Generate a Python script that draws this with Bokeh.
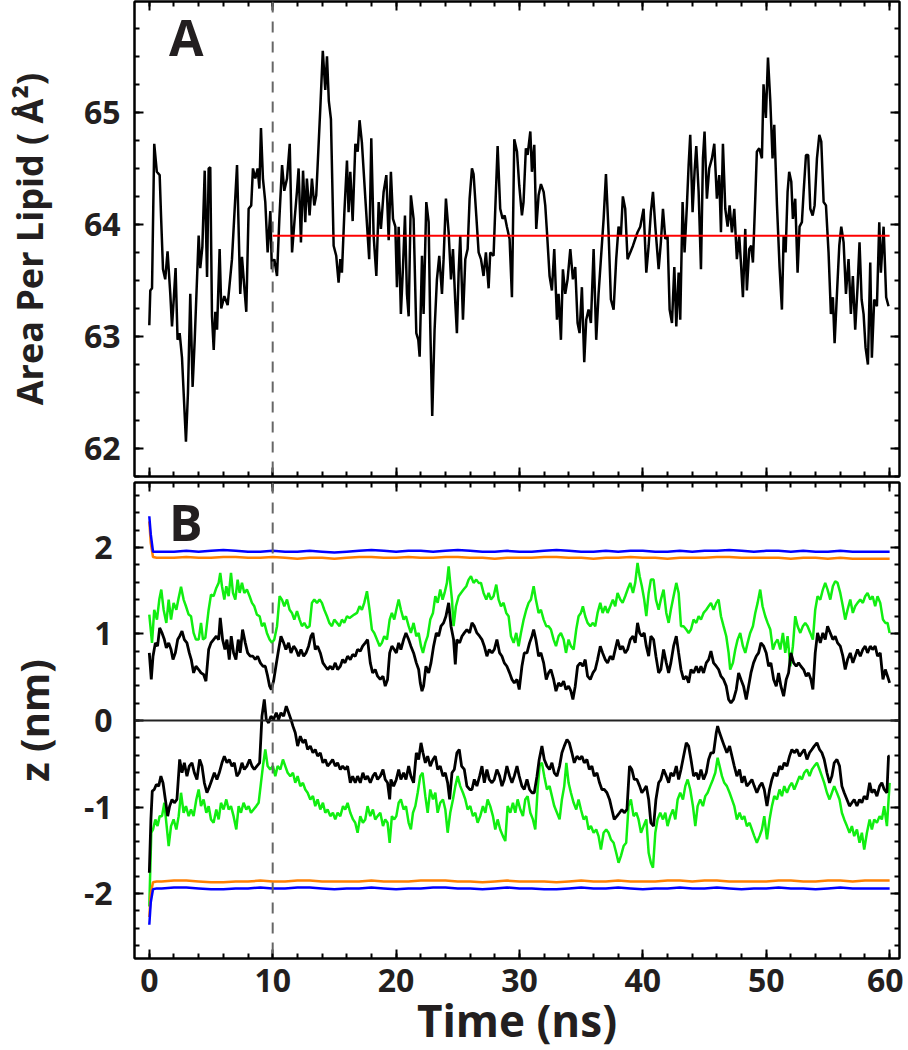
from bokeh.plotting import figure
from bokeh.models import LinearAxis, SingleIntervalTicker, Span, Label, Range1d, CustomJSTickFormatter
from bokeh.layouts import column
from bokeh.embed import file_html
from bokeh.resources import INLINE

# ---------------- data: panel A (area per lipid) ----------------
apl_t = [0.0,0.08,0.22,0.40,0.61,0.84,0.95,1.11,1.29,1.48,1.70,1.84,1.98,2.13,2.29,2.46,2.65,2.97,3.13,3.32,
3.51,3.68,4.00,4.13,4.30,4.49,4.68,4.81,4.94,5.08,5.22,5.35,5.49,5.70,5.83,6.08,6.35,6.70,7.11,7.37,
7.51,7.70,7.86,8.05,8.26,8.40,8.59,8.78,8.92,9.05,9.21,9.40,9.59,9.81,9.93,10.13,10.35,10.54,10.76,10.94,
11.16,11.38,11.57,11.78,11.97,12.10,12.29,12.46,12.64,12.77,12.99,13.18,13.37,13.53,13.86,14.06,14.26,14.40,14.55,14.72,
14.94,15.15,15.34,15.48,15.61,15.81,16.02,16.15,16.29,16.48,16.70,16.89,17.04,17.23,17.51,17.82,17.99,18.18,18.40,18.59,
18.77,18.99,19.21,19.40,19.58,
19.75,19.94,20.07,20.21,20.39,20.56,20.72,20.88,21.02,21.20,21.42,21.64,21.80,21.91,22.10,22.23,22.45,22.64,22.77,22.93,
23.12,23.31,23.50,23.72,23.85,24.04,24.26,24.45,24.61,24.80,24.93,25.07,25.20,25.42,25.61,25.80,25.96,26.15,26.28,26.50,
26.69,26.88,27.09,27.28,27.50,27.63,27.90,28.04,28.23,28.44,28.63,28.80,28.98,29.20,29.39,29.58,29.80,29.98,30.20,30.33,
30.52,30.66,30.88,31.01,31.20,31.36,31.55,31.74,31.96,32.09,32.23,32.44,32.63,32.82,33.04,33.17,33.36,33.52,33.71,33.90,
34.12,34.33,34.52,34.71,34.87,35.06,35.25,35.41,35.60,35.79,36.01,36.22,36.41,36.60,36.82,37.01,37.22,37.41,37.63,37.84,
38.03,38.22,38.38,38.57,38.76,38.98,39.20,39.38,39.57,39.79,40.06,
40.28,40.47,40.65,40.82,41.01,41.28,41.46,41.63,41.82,42.00,42.17,42.36,42.55,42.71,42.90,43.03,43.22,43.38,43.57,43.71,
43.84,44.03,44.19,44.33,44.52,44.71,44.87,45.00,45.19,45.38,45.60,45.79,46.00,46.19,46.33,46.49,46.68,46.87,47.03,47.22,
47.41,47.62,47.81,47.97,48.11,48.30,48.43,48.62,48.78,48.92,49.11,49.24,49.43,49.65,49.78,49.97,50.14,50.33,50.51,50.65,
50.87,51.08,51.27,51.41,51.57,51.73,51.86,52.03,52.16,52.35,52.54,52.70,52.89,53.03,53.22,53.40,53.57,53.76,53.92,54.11,
54.30,54.46,54.65,54.84,55.05,55.24,55.40,55.54,55.73,55.92,56.08,56.27,56.46,56.67,56.86,57.02,57.21,57.40,57.56,57.73,
57.89,58.05,58.24,58.43,58.56,58.75,58.97,59.16,59.29,59.51,59.72,59.91]
apl_v = [63.1,63.41,63.43,64.72,64.47,64.44,64.08,63.6,63.51,63.76,63.38,63.09,63.33,63.61,62.97,63.03,62.81,62.06,62.49,63.38,
62.55,62.97,63.9,63.61,63.8,64.48,63.53,64.5,64.51,63.18,62.88,63.22,63.06,63.78,63.25,63.36,63.28,63.69,64.53,63.38,
63.71,63.44,63.22,64.14,64.17,64.5,64.41,64.5,64.32,64.86,64.41,64.2,63.75,64.12,63.6,63.69,63.54,64.05,64.53,64.3,
64.41,64.72,63.75,64.05,64.3,64.5,63.84,64.48,64.02,64.41,64.08,64.41,64.17,64.26,65.04,65.55,65.2,65.5,65.1,64.94,
63.81,63.72,63.48,63.69,63.57,64.11,64.57,64.11,64.47,64.03,64.72,64.65,64.93,64.73,64.23,63.69,64.77,63.9,63.54,64.2,
63.96,64.29,64.44,63.86,64.47,
64.05,63.98,63.44,63.98,63.2,63.62,64.08,63.38,63.18,64.26,64.05,63.03,62.97,62.82,63.72,63.2,64.2,64.02,63.09,62.29,
63.06,63.51,63.72,63.38,63.69,64.23,63.93,63.51,63.78,63.3,63.03,63.57,63.9,63.15,63.69,63.78,64.23,64.5,64.45,64.08,
63.75,63.69,63.54,63.75,63.43,63.75,63.72,64.14,64.7,64.14,64.05,64.08,63.98,63.87,63.35,64.76,64.65,64.35,64.08,64.2,
64.68,64.62,64.83,64.47,64.71,63.96,64.26,64.36,64.29,64.17,63.93,63.54,63.41,63.78,63.15,63.38,62.97,63.6,63.38,63.51,
63.78,63.51,63.62,63.12,63.03,63.44,62.77,63.15,63.24,63.12,63.78,62.97,63.38,63.69,64.05,64.45,63.93,63.33,63.24,63.69,
63.98,63.9,64.25,64.14,63.69,63.75,63.81,63.87,63.93,63.98,64.14,
63.57,63.81,64.11,64.29,63.98,63.6,63.84,64.14,63.87,63.9,63.24,63.12,63.62,63.09,63.57,63.15,64.2,63.75,64.17,64.53,
64.8,64.11,64.47,64.7,64.29,63.6,64.59,64.83,64.23,64.5,64.59,64.72,64.23,64.44,63.93,64.72,64.14,63.98,64.17,63.93,
64.14,63.69,63.9,63.62,63.35,63.96,63.41,63.78,63.81,63.66,64.23,64.65,64.68,64.59,65.25,64.95,65.49,65.1,64.59,64.89,
64.17,63.62,63.24,63.9,63.75,64.29,64.47,64.38,64.05,64.23,63.57,63.98,64.02,64.29,64.62,64.62,64.14,64.08,64.17,64.59,
64.8,64.74,64.2,64.17,63.75,63.2,63.35,62.94,63.38,63.81,63.98,63.84,63.38,63.69,63.2,63.54,63.06,63.44,63.84,63.33,
63.2,62.9,62.75,63.66,62.81,63.33,63.27,64.02,63.57,63.98,63.35,63.27]
mean_t = [10, 60]
mean_v = [63.9, 63.9]

# ---------------- data: panel B (z positions, nm) ----------------
calm_t = [0, 0.12, 0.3, 0.6] + list(range(1, 61))
blue_up = [2.36,2.15,1.95,1.95,
1.95,1.95,1.96,1.95,1.96,1.97,1.96,1.95,1.95,1.96,1.95,1.95,1.96,1.95,1.94,1.95,1.96,1.97,1.96,1.95,
1.96,1.96,1.95,1.96,1.97,1.96,1.95,1.95,1.96,1.95,1.95,1.96,1.97,1.96,1.95,1.95,1.96,1.95,1.96,1.96,
1.95,1.95,1.96,1.95,1.96,1.96,1.97,1.96,1.95,1.96,1.96,1.95,1.96,1.95,1.95,1.96,1.95,1.95,1.95,1.95]
orange_up = [2.30,2.05,1.89,1.88,
1.88,1.88,1.89,1.88,1.88,1.89,1.89,1.88,1.88,1.89,1.88,1.87,1.88,1.88,1.87,1.88,1.89,1.89,1.88,1.88,
1.89,1.88,1.88,1.89,1.89,1.88,1.88,1.87,1.88,1.88,1.88,1.89,1.89,1.88,1.88,1.87,1.88,1.88,1.89,1.88,
1.88,1.87,1.88,1.88,1.88,1.89,1.89,1.88,1.88,1.88,1.88,1.87,1.88,1.88,1.87,1.88,1.87,1.87,1.87,1.87]
blue_low = [-2.36,-2.10,-1.95,-1.94,
-1.94,-1.93,-1.93,-1.94,-1.95,-1.95,-1.94,-1.94,-1.93,-1.94,-1.94,-1.93,-1.93,-1.94,-1.95,-1.94,-1.94,-1.93,-1.94,-1.95,
-1.94,-1.94,-1.93,-1.93,-1.94,-1.94,-1.95,-1.94,-1.93,-1.94,-1.94,-1.95,-1.95,-1.94,-1.93,-1.94,-1.94,-1.93,-1.94,-1.95,
-1.94,-1.94,-1.93,-1.94,-1.94,-1.93,-1.94,-1.95,-1.94,-1.94,-1.93,-1.94,-1.94,-1.95,-1.94,-1.93,-1.94,-1.94,-1.94,-1.94]
orange_low = [-2.27,-2.00,-1.87,-1.86,
-1.86,-1.85,-1.85,-1.86,-1.87,-1.87,-1.86,-1.86,-1.85,-1.86,-1.86,-1.85,-1.85,-1.86,-1.86,-1.86,-1.86,-1.85,-1.86,-1.86,
-1.86,-1.85,-1.85,-1.85,-1.86,-1.86,-1.87,-1.86,-1.85,-1.86,-1.86,-1.86,-1.87,-1.86,-1.85,-1.86,-1.86,-1.85,-1.86,-1.86,
-1.86,-1.85,-1.85,-1.86,-1.85,-1.85,-1.86,-1.86,-1.86,-1.86,-1.85,-1.85,-1.86,-1.86,-1.85,-1.85,-1.86,-1.85,-1.85,-1.85]

gu_t = [0.0,0.22,0.40,0.62,0.81,0.97,1.16,1.38,1.57,1.76,1.97,2.19,2.38,2.57,2.78,2.97,3.19,3.38,3.59,3.78,
4.00,4.19,4.35,4.54,4.81,5.00,5.21,5.43,5.62,5.75,5.89,6.08,6.24,6.43,6.62,6.78,6.97,7.16,7.32,7.51,
7.70,7.91,8.13,8.32,8.51,8.72,8.94,9.13,9.32,9.53,9.75,9.94,10.13,10.35,10.56,10.75,10.94,11.16,11.37,11.56,
11.75,11.97,12.18,12.37,12.56,12.78,12.99,13.18,13.37,13.59,13.80,13.99,14.18,14.40,14.59,14.80,14.99,15.21,15.42,15.61,
15.80,16.02,16.23,16.42,16.61,16.83,17.04,17.23,17.42,17.64,17.85,18.04,18.23,18.45,18.67,18.85,19.04,19.26,19.48,19.66,
19.85,
20.02,20.21,20.39,20.61,20.80,21.02,21.20,21.42,21.64,21.83,22.02,22.18,22.37,22.56,22.77,22.99,23.18,23.37,23.58,23.77,
23.93,24.12,24.26,24.39,24.53,24.66,24.85,25.07,25.26,25.47,25.69,25.88,26.07,26.28,26.50,26.69,26.88,27.09,27.31,27.50,
27.69,27.90,28.12,28.31,28.50,28.71,28.93,29.12,29.31,29.53,29.74,29.93,30.12,30.34,30.55,30.74,30.93,31.15,31.33,31.55,
31.74,31.96,32.17,32.36,32.55,32.77,32.96,33.17,33.36,33.58,33.77,33.98,34.17,34.39,34.60,34.79,34.98,35.14,35.33,35.52,
35.74,35.95,36.14,36.33,36.55,36.74,36.95,37.14,37.36,37.57,37.76,37.95,38.17,38.36,38.57,38.76,38.98,39.20,39.38,39.57,
39.74,39.92,40.11,
40.28,40.47,40.65,40.87,41.06,41.28,41.46,41.68,41.90,42.09,42.27,42.49,42.71,42.90,43.09,43.30,43.52,43.71,43.90,44.11,
44.33,44.52,44.71,44.92,45.14,45.33,45.52,45.73,45.95,46.14,46.33,46.54,46.76,46.95,47.08,47.30,47.49,47.68,47.89,48.11,
48.30,48.49,48.70,48.92,49.11,49.30,49.51,49.70,49.92,50.11,50.33,50.54,50.73,50.92,51.14,51.35,51.54,51.73,51.95,52.16,
52.35,52.54,52.76,52.97,53.16,53.35,53.57,53.78,53.97,54.16,54.38,54.59,54.78,54.97,55.19,55.40,55.59,55.78,56.00,56.21,
56.40,56.59,56.81,57.02,57.21,57.40,57.62,57.83,58.02,58.21,58.43,58.62,58.83,59.02,59.24,59.46,59.65,59.83,60.00]
gu_v = [1.224,0.897,1.28,1.166,1.397,1.513,1.28,1.128,1.397,1.166,1.359,1.28,1.417,1.544,1.397,1.32,1.224,1.205,1.012,0.935,
0.935,1.128,0.935,0.955,1.28,1.455,1.436,1.532,1.59,1.705,1.551,1.397,1.551,1.436,1.705,1.474,1.397,1.628,1.474,1.59,
1.474,1.513,1.436,1.359,1.32,1.224,1.205,1.09,1.128,1.012,0.935,0.897,0.935,1.09,1.436,1.397,1.32,1.397,1.28,1.243,
1.166,1.263,1.166,1.09,1.128,1.07,1.09,1.359,1.397,1.359,1.397,1.359,1.28,1.205,1.128,1.09,1.166,1.128,1.09,1.166,
1.128,1.205,1.185,1.205,1.224,1.243,1.32,1.28,1.359,1.494,1.28,1.05,1.012,0.935,0.859,0.897,0.974,0.935,1.166,1.243,
1.166,
1.28,1.397,1.28,1.166,1.205,1.09,1.012,1.128,0.974,1.012,0.859,0.781,0.897,0.974,1.166,1.243,1.436,1.359,1.513,1.397,
1.474,1.59,1.782,1.59,1.397,1.09,1.32,1.436,1.474,1.513,1.551,1.628,1.667,1.59,1.628,1.59,1.59,1.474,1.397,1.474,
1.397,1.436,1.57,1.397,1.32,1.359,1.243,1.205,0.974,0.897,1.012,0.859,1.012,1.166,1.28,1.359,1.397,1.551,1.397,1.243,
1.28,1.166,1.09,1.09,1.051,0.935,0.859,0.974,1.012,0.935,0.781,0.935,0.859,0.82,1.051,1.205,1.243,1.32,1.205,1.128,
1.09,1.128,1.09,1.243,1.359,1.243,1.32,1.243,1.32,1.397,1.32,1.474,1.397,1.359,1.436,1.513,1.59,1.474,1.59,1.82,
1.667,1.551,1.397,
1.205,1.474,1.628,1.628,1.397,1.28,1.397,1.513,1.243,1.128,1.28,1.436,1.59,1.474,1.09,1.09,1.051,1.012,1.051,1.166,
1.128,1.205,1.166,1.243,1.28,1.32,1.359,1.28,1.359,1.397,1.205,1.09,0.974,0.781,0.589,0.666,0.82,0.935,1.012,0.859,
0.781,0.897,1.012,1.09,1.243,1.359,1.513,1.32,1.205,1.128,1.051,0.82,0.897,0.935,0.82,1.012,0.781,0.974,0.627,0.859,
1.205,1.09,1.012,1.09,1.128,1.09,1.012,0.935,1.28,1.436,1.397,1.513,1.59,1.513,1.397,1.551,1.609,1.59,1.474,1.32,
1.166,1.28,1.397,1.243,1.32,1.359,1.397,1.359,1.436,1.474,1.397,1.436,1.32,1.436,1.359,1.166,1.128,1.128,1.012]

bu_t = [0.0,0.16,0.30,0.49,0.67,0.84,1.03,1.22,1.38,1.57,1.76,1.92,2.11,2.30,2.46,2.65,2.84,3.05,3.24,3.40,
3.59,3.78,4.00,4.19,4.40,4.59,4.81,5.00,5.21,5.43,5.62,5.75,5.94,6.13,6.29,6.48,6.64,6.83,7.02,7.21,
7.37,7.56,7.78,7.97,8.18,8.40,8.59,8.78,9.00,9.21,9.40,9.59,9.75,9.89,10.07,10.26,10.48,10.67,10.89,11.07,
11.29,11.48,11.70,11.89,12.10,12.29,12.51,12.70,12.91,13.10,13.26,13.45,13.64,13.86,14.07,14.26,14.45,14.67,14.86,15.07,
15.26,15.48,15.67,15.86,16.07,16.29,16.48,16.69,16.88,17.10,17.29,17.50,17.69,17.91,18.10,18.31,18.50,18.72,18.94,19.12,
19.31,19.48,19.66,19.85,
20.02,20.21,20.39,20.61,20.80,21.02,21.20,21.42,21.64,21.83,21.96,22.10,22.23,22.42,22.64,22.83,23.04,23.26,23.45,23.64,
23.85,24.04,24.26,24.45,24.66,24.80,24.93,25.15,25.34,25.53,25.74,25.96,26.15,26.34,26.55,26.77,26.96,27.15,27.36,27.55,
27.77,27.96,28.17,28.39,28.58,28.77,28.98,29.20,29.39,29.58,29.80,29.98,30.20,30.39,30.61,30.82,31.01,31.15,31.33,31.55,
31.74,31.96,32.17,32.36,32.55,32.77,32.96,33.17,33.36,33.58,33.77,33.98,34.17,34.33,34.52,34.71,34.93,35.14,35.33,35.52,
35.74,35.95,36.14,36.33,36.55,36.74,36.95,37.14,37.36,37.57,37.76,37.95,38.17,38.36,38.57,38.76,38.98,39.20,39.38,39.57,
39.74,39.92,40.11,
40.28,40.47,40.65,40.87,41.06,41.28,41.46,41.68,41.90,42.09,42.27,42.49,42.71,42.90,43.09,43.30,43.52,43.71,43.90,44.11,
44.33,44.52,44.71,44.92,45.14,45.33,45.52,45.73,45.95,46.14,46.33,46.54,46.76,46.95,47.14,47.35,47.57,47.76,47.95,48.16,
48.38,48.57,48.76,48.97,49.19,49.38,49.57,49.79,50.00,50.19,50.38,50.60,50.81,51.00,51.19,51.41,51.62,51.81,52.00,52.22,
52.43,52.62,52.81,53.03,53.24,53.43,53.62,53.78,53.97,54.16,54.38,54.59,54.78,54.97,55.19,55.40,55.59,55.78,56.00,56.21,
56.40,56.59,56.81,57.02,57.21,57.40,57.62,57.83,58.02,58.21,58.43,58.62,58.83,59.02,59.24,59.46,59.65,59.83,60.00]
bu_v = [0.781,0.474,0.743,0.897,0.859,1.07,1.012,0.935,0.839,0.897,0.82,0.704,0.781,0.935,0.974,1.032,0.935,0.897,0.781,0.704,
0.55,0.627,0.589,0.55,0.531,0.454,0.82,0.897,0.935,0.974,0.935,1.185,0.935,0.82,0.935,0.704,0.974,0.781,0.704,0.935,
0.781,1.051,0.897,0.781,0.743,0.743,0.704,0.743,0.666,0.627,0.627,0.512,0.397,0.358,0.454,0.627,0.82,0.974,0.897,0.82,
0.897,0.781,0.859,0.82,0.743,0.82,0.743,0.781,0.859,0.974,1.012,0.82,0.859,0.781,0.666,0.627,0.589,0.627,0.589,0.666,
0.589,0.627,0.704,0.666,0.743,0.704,0.762,0.743,0.82,0.801,0.859,0.897,0.935,0.666,0.55,0.589,0.512,0.474,0.512,0.397,
0.474,0.781,0.859,0.82,
0.781,0.897,0.82,0.935,1.012,0.935,0.859,0.781,0.666,0.589,0.435,0.339,0.397,0.627,0.55,0.666,0.859,1.012,0.974,1.09,
1.128,1.205,1.359,1.09,0.935,0.647,0.935,0.897,0.974,1.012,1.051,1.012,1.128,1.09,1.012,0.974,0.935,0.859,0.743,0.82,
0.781,0.82,0.935,0.781,0.743,0.666,0.627,0.55,0.474,0.435,0.474,0.358,0.627,0.781,0.781,0.897,0.974,1.051,0.935,0.743,
0.781,0.666,0.474,0.55,0.589,0.474,0.339,0.435,0.397,0.454,0.358,0.397,0.339,0.243,0.397,0.627,0.666,0.627,0.704,0.512,
0.474,0.55,0.589,0.704,0.859,0.781,0.704,0.666,0.743,0.704,0.82,0.935,0.82,0.859,0.781,0.82,0.935,0.974,0.897,1.128,
1.012,0.974,1.012,
0.859,0.743,0.974,0.935,0.743,0.55,0.589,0.82,0.666,0.55,0.666,0.859,0.974,0.781,0.589,0.474,0.512,0.435,0.589,0.55,
0.627,0.55,0.627,0.55,0.666,0.704,0.801,0.666,0.627,0.589,0.512,0.474,0.397,0.243,0.204,0.243,0.358,0.55,0.474,0.397,
0.243,0.397,0.55,0.666,0.743,0.781,0.897,0.859,0.781,0.627,0.666,0.474,0.397,0.55,0.397,0.281,0.474,0.55,0.781,0.666,
0.627,0.666,0.627,0.589,0.512,0.55,0.474,0.358,0.781,1.012,0.897,1.012,0.935,1.09,1.012,0.935,0.974,0.897,0.859,0.743,
0.589,0.704,0.781,0.666,0.743,0.82,0.743,0.82,0.859,0.781,0.859,0.82,0.859,0.743,0.781,0.474,0.589,0.512,0.435]

bl_t = [0.0,0.13,0.24,0.40,0.57,0.76,0.94,1.11,1.30,1.49,1.65,1.84,2.03,2.24,2.46,2.65,2.84,3.05,3.24,3.46,
3.65,3.86,4.08,4.27,4.46,4.67,4.89,5.08,5.27,5.48,5.67,5.89,6.08,6.29,6.48,6.70,6.89,7.10,7.29,7.51,
7.70,7.91,8.13,8.32,8.51,8.72,8.94,9.13,9.32,9.48,9.67,9.86,10.07,10.29,10.48,10.67,10.89,11.10,11.29,11.48,
11.64,11.83,12.02,12.24,12.45,12.64,12.83,13.05,13.26,13.45,13.64,13.86,14.07,14.26,14.45,14.67,14.86,15.07,15.26,15.48,
15.67,15.88,16.07,16.29,16.48,16.69,16.88,17.10,17.31,17.50,17.69,17.91,18.12,18.31,18.50,18.72,18.94,19.12,19.31,19.48,
19.58,19.80,
20.02,20.21,20.39,20.61,20.80,21.02,21.20,21.42,21.64,21.83,22.02,22.18,22.37,22.56,22.77,22.99,23.18,23.37,23.58,23.80,
23.99,24.18,24.34,24.53,24.72,24.93,25.12,25.31,25.53,25.74,25.96,26.15,26.34,26.55,26.77,26.96,27.15,27.36,27.55,27.77,
27.96,28.17,28.39,28.58,28.77,28.98,29.20,29.39,29.58,29.80,29.98,30.20,30.39,30.61,30.82,31.01,31.20,31.42,31.60,31.82,
32.01,32.23,32.44,32.63,32.82,33.04,33.25,33.44,33.63,33.85,34.04,34.25,34.44,34.66,34.87,35.06,35.25,35.47,35.66,35.87,
36.06,36.28,36.49,36.68,36.87,37.09,37.30,37.49,37.68,37.90,38.11,38.30,38.49,38.71,38.92,39.11,39.30,39.52,39.74,39.92,
40.11,
40.28,40.47,40.65,40.87,41.06,41.28,41.46,41.68,41.90,42.09,42.27,42.49,42.71,42.90,43.09,43.30,43.52,43.71,43.90,44.11,
44.33,44.52,44.71,44.92,45.14,45.33,45.52,45.73,45.95,46.06,46.22,46.41,46.60,46.81,47.03,47.22,47.41,47.62,47.84,48.03,
48.22,48.43,48.65,48.84,49.03,49.24,49.46,49.65,49.84,50.06,50.27,50.46,50.65,50.87,51.08,51.27,51.46,51.68,51.89,52.08,
52.27,52.49,52.70,52.89,53.08,53.30,53.51,53.70,53.89,54.11,54.32,54.51,54.70,54.92,55.13,55.32,55.51,55.73,55.94,56.13,
56.32,56.54,56.75,56.94,57.13,57.35,57.56,57.75,57.94,58.16,58.38,58.56,58.75,58.97,59.19,59.37,59.56,59.78,59.91,60.00]
bl_v = [-1.76,-1.143,-0.816,-0.797,-0.739,-0.758,-0.643,-0.72,-0.912,-1.105,-0.989,-0.912,-0.951,-0.912,-0.45,-0.604,-0.489,-0.643,-0.527,-0.489,
-0.604,-0.681,-0.45,-0.527,-0.72,-0.835,-0.758,-0.681,-0.604,-0.681,-0.604,-0.489,-0.412,-0.489,-0.45,-0.527,-0.489,-0.643,-0.604,-0.489,
-0.566,-0.527,-0.45,-0.527,-0.566,-0.527,-0.489,0.05,0.243,0.012,-0.027,0.05,0.012,0.089,0.012,0.089,0.05,0.166,0.089,0.012,
-0.065,-0.142,-0.296,-0.181,-0.258,-0.219,-0.335,-0.296,-0.373,-0.335,-0.412,-0.373,-0.489,-0.45,-0.527,-0.489,-0.45,-0.527,-0.489,-0.566,
-0.527,-0.566,-0.527,-0.72,-0.643,-0.72,-0.643,-0.72,-0.604,-0.681,-0.643,-0.72,-0.643,-0.604,-0.681,-0.643,-0.566,-0.681,-0.72,-0.912,
-0.681,-0.758,
-0.681,-0.566,-0.681,-0.604,-0.681,-0.527,-0.643,-0.72,-0.373,-0.45,-0.258,-0.373,-0.489,-0.412,-0.527,-0.45,-0.412,-0.566,-0.527,-0.643,
-0.604,-0.72,-0.912,-0.604,-0.566,-0.373,-0.335,-0.527,-0.566,-0.758,-0.797,-0.797,-0.681,-0.758,-0.643,-0.527,-0.72,-0.566,-0.681,-0.72,
-0.681,-0.566,-0.643,-0.758,-0.681,-0.527,-0.643,-0.72,-0.643,-0.527,-0.643,-0.758,-0.797,-0.681,-0.797,-0.835,-0.835,-0.643,-0.45,-0.296,
-0.45,-0.527,-0.566,-0.489,-0.604,-0.643,-0.527,-0.373,-0.296,-0.219,-0.258,-0.373,-0.489,-0.412,-0.45,-0.412,-0.489,-0.45,-0.566,-0.527,
-0.643,-0.604,-0.72,-0.797,-0.797,-0.835,-0.912,-1.028,-1.143,-1.105,-1.066,-1.028,-1.066,-1.028,-0.527,-0.566,-0.681,-0.681,-0.758,-0.835,
-0.797,
-0.758,-0.912,-1.182,-1.22,-0.912,-0.72,-0.681,-0.566,-0.643,-0.72,-0.604,-0.643,-0.527,-0.681,-0.566,-0.412,-0.258,-0.296,-0.45,-0.643,
-0.604,-0.681,-0.566,-0.681,-0.604,-0.45,-0.373,-0.373,-0.142,-0.065,-0.142,-0.219,-0.296,-0.373,-0.296,-0.412,-0.527,-0.643,-0.566,-0.72,
-0.643,-0.758,-0.72,-0.681,-0.758,-0.835,-0.758,-0.72,-0.797,-0.989,-0.797,-0.681,-0.604,-0.643,-0.527,-0.566,-0.489,-0.527,-0.412,-0.335,
-0.373,-0.335,-0.412,-0.373,-0.335,-0.45,-0.373,-0.335,-0.296,-0.258,-0.335,-0.373,-0.45,-0.604,-0.72,-0.643,-0.489,-0.45,-0.527,-0.758,
-0.835,-0.912,-0.989,-0.951,-0.912,-0.989,-0.912,-0.951,-0.874,-0.912,-0.72,-0.835,-0.797,-0.874,-0.758,-0.72,-0.797,-0.835,-0.412,-0.412]

gl_t = [0.0,0.16,0.30,0.49,0.67,0.84,1.03,1.22,1.38,1.57,1.76,1.97,2.19,2.38,2.57,2.78,2.97,3.19,3.38,3.59,
3.81,4.00,4.19,4.40,4.62,4.81,5.00,5.21,5.43,5.62,5.81,6.02,6.24,6.43,6.62,6.83,7.05,7.24,7.43,7.64,
7.86,8.05,8.24,8.45,8.67,8.86,9.05,9.21,9.40,9.59,9.80,10.02,10.21,10.40,10.62,10.83,11.02,11.21,11.43,11.64,
11.83,12.02,12.24,12.45,12.64,12.83,13.05,13.26,13.45,13.64,13.86,14.07,14.26,14.45,14.67,14.88,15.07,15.26,15.48,15.70,
15.88,16.07,16.29,16.51,16.69,16.88,17.10,17.31,17.50,17.69,17.91,18.12,18.31,18.50,18.72,18.94,19.12,19.31,19.48,19.66,
19.85,
20.02,20.21,20.39,20.61,20.80,21.02,21.20,21.37,21.56,21.75,21.96,22.15,22.37,22.56,22.77,22.99,23.18,23.37,23.58,23.80,
23.99,24.18,24.39,24.61,24.80,24.99,25.20,25.42,25.61,25.80,26.01,26.23,26.42,26.61,26.82,27.04,27.23,27.42,27.63,27.85,
28.04,28.23,28.44,28.66,28.85,29.04,29.26,29.47,29.66,29.85,30.07,30.28,30.47,30.66,30.88,31.09,31.28,31.47,31.63,31.82,
32.01,32.23,32.44,32.63,32.82,33.04,33.25,33.44,33.63,33.80,33.98,34.17,34.39,34.60,34.79,34.98,35.20,35.41,35.60,35.79,
36.01,36.22,36.41,36.60,36.82,37.03,37.22,37.41,37.63,37.84,38.03,38.22,38.44,38.65,38.84,39.03,39.25,39.47,39.65,39.85,
40.06,
40.28,40.47,40.65,40.82,41.01,41.19,41.41,41.63,41.82,42.00,42.22,42.44,42.63,42.82,43.03,43.25,43.44,43.63,43.84,44.06,
44.25,44.44,44.65,44.87,45.06,45.25,45.46,45.68,45.87,46.06,46.22,46.41,46.60,46.81,47.03,47.22,47.41,47.62,47.84,48.03,
48.22,48.43,48.65,48.84,49.03,49.24,49.46,49.65,49.84,50.06,50.27,50.46,50.65,50.87,51.08,51.27,51.46,51.68,51.89,52.08,
52.27,52.49,52.70,52.89,53.08,53.30,53.51,53.70,53.89,54.11,54.32,54.51,54.70,54.92,55.13,55.32,55.51,55.73,55.94,56.13,
56.32,56.54,56.75,56.94,57.13,57.35,57.56,57.75,57.94,58.16,58.38,58.56,58.75,58.97,59.19,59.37,59.56,59.78,60.00]
gl_v = [-2.15,-1.297,-1.259,-1.143,-1.22,-1.105,-1.105,-0.951,-1.182,-1.451,-1.22,-1.143,-1.259,-1.105,-0.835,-1.066,-0.989,-1.105,-1.028,-1.105,
-0.912,-0.797,-0.989,-0.912,-1.066,-0.989,-1.143,-1.182,-1.028,-1.143,-0.951,-1.028,-0.912,-1.028,-0.989,-1.105,-1.259,-0.989,-1.066,-0.951,
-1.028,-0.989,-1.066,-1.028,-0.989,-0.951,-0.72,-0.527,-0.335,-0.527,-0.566,-0.527,-0.643,-0.527,-0.566,-0.45,-0.527,-0.604,-0.643,-0.604,
-0.72,-0.643,-0.758,-0.72,-0.797,-0.835,-0.912,-0.874,-0.989,-0.912,-1.028,-0.951,-1.066,-1.028,-1.105,-1.066,-1.143,-1.066,-1.105,-0.989,
-1.028,-0.951,-1.066,-1.143,-1.182,-1.297,-1.105,-1.182,-1.143,-0.989,-1.105,-1.028,-1.143,-1.105,-1.066,-1.22,-1.143,-1.182,-1.413,-1.105,
-1.143,
-1.105,-0.951,-0.912,-1.028,-0.989,-1.182,-1.259,-1.066,-0.989,-0.835,-0.643,-0.604,-0.874,-1.066,-0.797,-0.912,-0.835,-1.066,-0.951,-0.912,
-1.028,-1.297,-1.066,-0.912,-0.758,-0.643,-0.758,-0.835,-0.912,-1.028,-0.989,-1.105,-1.066,-1.182,-1.105,-0.989,-1.066,-0.912,-0.989,-1.105,
-1.259,-1.143,-1.259,-1.336,-1.393,-0.989,-1.066,-0.951,-1.066,-0.912,-1.028,-1.105,-0.912,-0.874,-1.066,-1.143,-1.259,-0.797,-0.527,-0.489,
-0.643,-0.797,-0.758,-0.874,-0.989,-1.066,-1.143,-0.912,-0.758,-0.489,-0.72,-0.835,-0.951,-1.028,-0.912,-1.028,-1.143,-1.105,-1.259,-1.22,
-1.297,-1.259,-1.336,-1.49,-1.297,-1.259,-1.297,-1.374,-1.413,-1.528,-1.644,-1.567,-1.451,-1.413,-0.989,-0.912,-1.105,-1.066,-1.143,-1.297,
-1.22,
-1.143,-1.528,-1.644,-1.701,-1.297,-1.143,-1.066,-1.143,-1.066,-1.22,-1.105,-1.028,-1.143,-0.912,-0.835,-0.912,-0.758,-0.681,-0.797,-0.989,
-1.22,-0.989,-0.912,-0.989,-0.874,-0.835,-0.758,-0.681,-0.604,-0.431,-0.527,-0.643,-0.72,-0.758,-0.835,-0.912,-0.989,-1.143,-1.066,-1.143,
-1.105,-1.22,-1.182,-1.259,-1.336,-1.413,-1.336,-1.259,-1.105,-1.374,-1.143,-0.989,-0.874,-0.912,-0.797,-0.874,-0.758,-0.835,-0.758,-0.72,
-0.797,-0.72,-0.643,-0.681,-0.604,-0.566,-0.643,-0.566,-0.527,-0.489,-0.566,-0.643,-0.72,-0.835,-0.912,-0.835,-0.758,-0.835,-0.912,-1.066,
-1.143,-1.22,-1.297,-1.22,-1.336,-1.259,-1.413,-1.297,-1.49,-1.297,-1.143,-1.259,-1.143,-1.182,-1.105,-1.143,-0.989,-1.22,-0.72]

equil_time = 10  # dashed marker

# ---------------- styling ----------------
FONT = "Open Sans"
TXT = "#231f20"
BLUE, ORANGE, GREEN, BLACK = "#0000ff", "#ff7f00", "#11ee11", "#000000"


def style_axis(ax, interval, minor, labels=True, size="32px", standoff=10):
    ax.ticker = SingleIntervalTicker(interval=interval, num_minor_ticks=minor)
    ax.axis_line_width = 2
    ax.axis_line_color = "black"
    ax.major_tick_line_width = 2
    ax.minor_tick_line_width = 2
    ax.major_tick_line_color = "black"
    ax.minor_tick_line_color = "black"
    ax.major_tick_in = 9
    ax.major_tick_out = 0
    ax.minor_tick_in = 5
    ax.minor_tick_out = 0
    ax.major_label_text_font = FONT
    ax.major_label_text_font_style = "bold"
    ax.major_label_text_color = TXT
    if labels:
        ax.major_label_text_font_size = size
        ax.major_label_standoff = standoff
    else:
        # tick marks only, with empty tick labels
        ax.formatter = CustomJSTickFormatter(code="return '';")
        ax.major_label_text_font_size = "10px"
        ax.major_label_standoff = 0


def style_axis_label(ax, text, size, standoff):
    ax.axis_label = text
    ax.axis_label_text_font = FONT
    ax.axis_label_text_font_style = "bold"
    ax.axis_label_text_font_size = size
    ax.axis_label_text_color = TXT
    ax.axis_label_standoff = standoff


def base_fig(frame_h, yr, top, bottom):
    p = figure(frame_width=765, frame_height=frame_h,
               x_range=Range1d(-1.2, 60.8), y_range=yr,
               output_backend="svg", toolbar_location=None,
               min_border_left=134, min_border_right=4,
               min_border_top=top, min_border_bottom=bottom)
    p.xgrid.grid_line_color = None
    p.ygrid.grid_line_color = None
    p.outline_line_color = "black"
    p.outline_line_width = 2
    p.background_fill_color = "white"
    p.border_fill_color = "white"
    return p


# ---------------- panel A ----------------
pA = base_fig(475, Range1d(61.75, 65.99), 1, 3)
style_axis(pA.xaxis[0], 10, 5, labels=False)
style_axis(pA.yaxis[0], 1, 4, labels=True, standoff=14)
style_axis_label(pA.yaxis[0], "Area Per Lipid ( Å²)", "36px", 27)
axA_top = LinearAxis()
style_axis(axA_top, 10, 5, labels=False)
pA.add_layout(axA_top, "above")
axA_r = LinearAxis()
style_axis(axA_r, 1, 4, labels=False)
pA.add_layout(axA_r, "right")

pA.add_layout(Span(location=equil_time, dimension="height", line_color="#666666",
                   line_width=2, line_dash="11 9"))
pA.line(apl_t, apl_v, line_color=BLACK, line_width=2.5)
pA.line(mean_t, mean_v, line_color="#ff0000", line_width=2)
pA.add_layout(Label(x=1.6, y=65.67, text="A", text_font=FONT, text_font_style="bold",
                    text_font_size="50px", text_color=TXT, text_baseline="alphabetic"))

# ---------------- panel B ----------------
pB = base_fig(476, Range1d(-2.75, 2.75), 3, 40)
style_axis(pB.xaxis[0], 10, 5, labels=True, standoff=10)
style_axis_label(pB.xaxis[0], "Time (ns)", "44px", -5)
style_axis(pB.yaxis[0], 1, 5, labels=True, standoff=22)
pB.yaxis[0].major_label_overrides = {-2: "-2", -1: "-1"}
style_axis_label(pB.yaxis[0], "z (nm)", "40px", 20)
axB_top = LinearAxis()
style_axis(axB_top, 10, 5, labels=False)
pB.add_layout(axB_top, "above")
axB_r = LinearAxis()
style_axis(axB_r, 1, 5, labels=False)
pB.add_layout(axB_r, "right")

pB.add_layout(Span(location=equil_time, dimension="height", line_color="#666666",
                   line_width=2, line_dash="11 9"))
pB.add_layout(Span(location=0, dimension="width", line_color="#222222", line_width=2))

pB.line(calm_t, orange_up, line_color=ORANGE, line_width=2.5)
pB.line(calm_t, blue_up, line_color=BLUE, line_width=2.5)
pB.line(gu_t, gu_v, line_color=GREEN, line_width=2.5)
pB.line(bu_t, bu_v, line_color=BLACK, line_width=2.8)
pB.line(gl_t, gl_v, line_color=GREEN, line_width=2.5)
pB.line(bl_t, bl_v, line_color=BLACK, line_width=2.8)
pB.line(calm_t, orange_low, line_color=ORANGE, line_width=2.5)
pB.line(calm_t, blue_low, line_color=BLUE, line_width=2.5)
pB.add_layout(Label(x=1.6, y=2.29, text="B", text_font=FONT, text_font_style="bold",
                    text_font_size="50px", text_color=TXT, text_baseline="alphabetic"))

layout = column(pA, pB)
open("out.html", "w").write(file_html(layout, INLINE, "Area per lipid and z positions"))
